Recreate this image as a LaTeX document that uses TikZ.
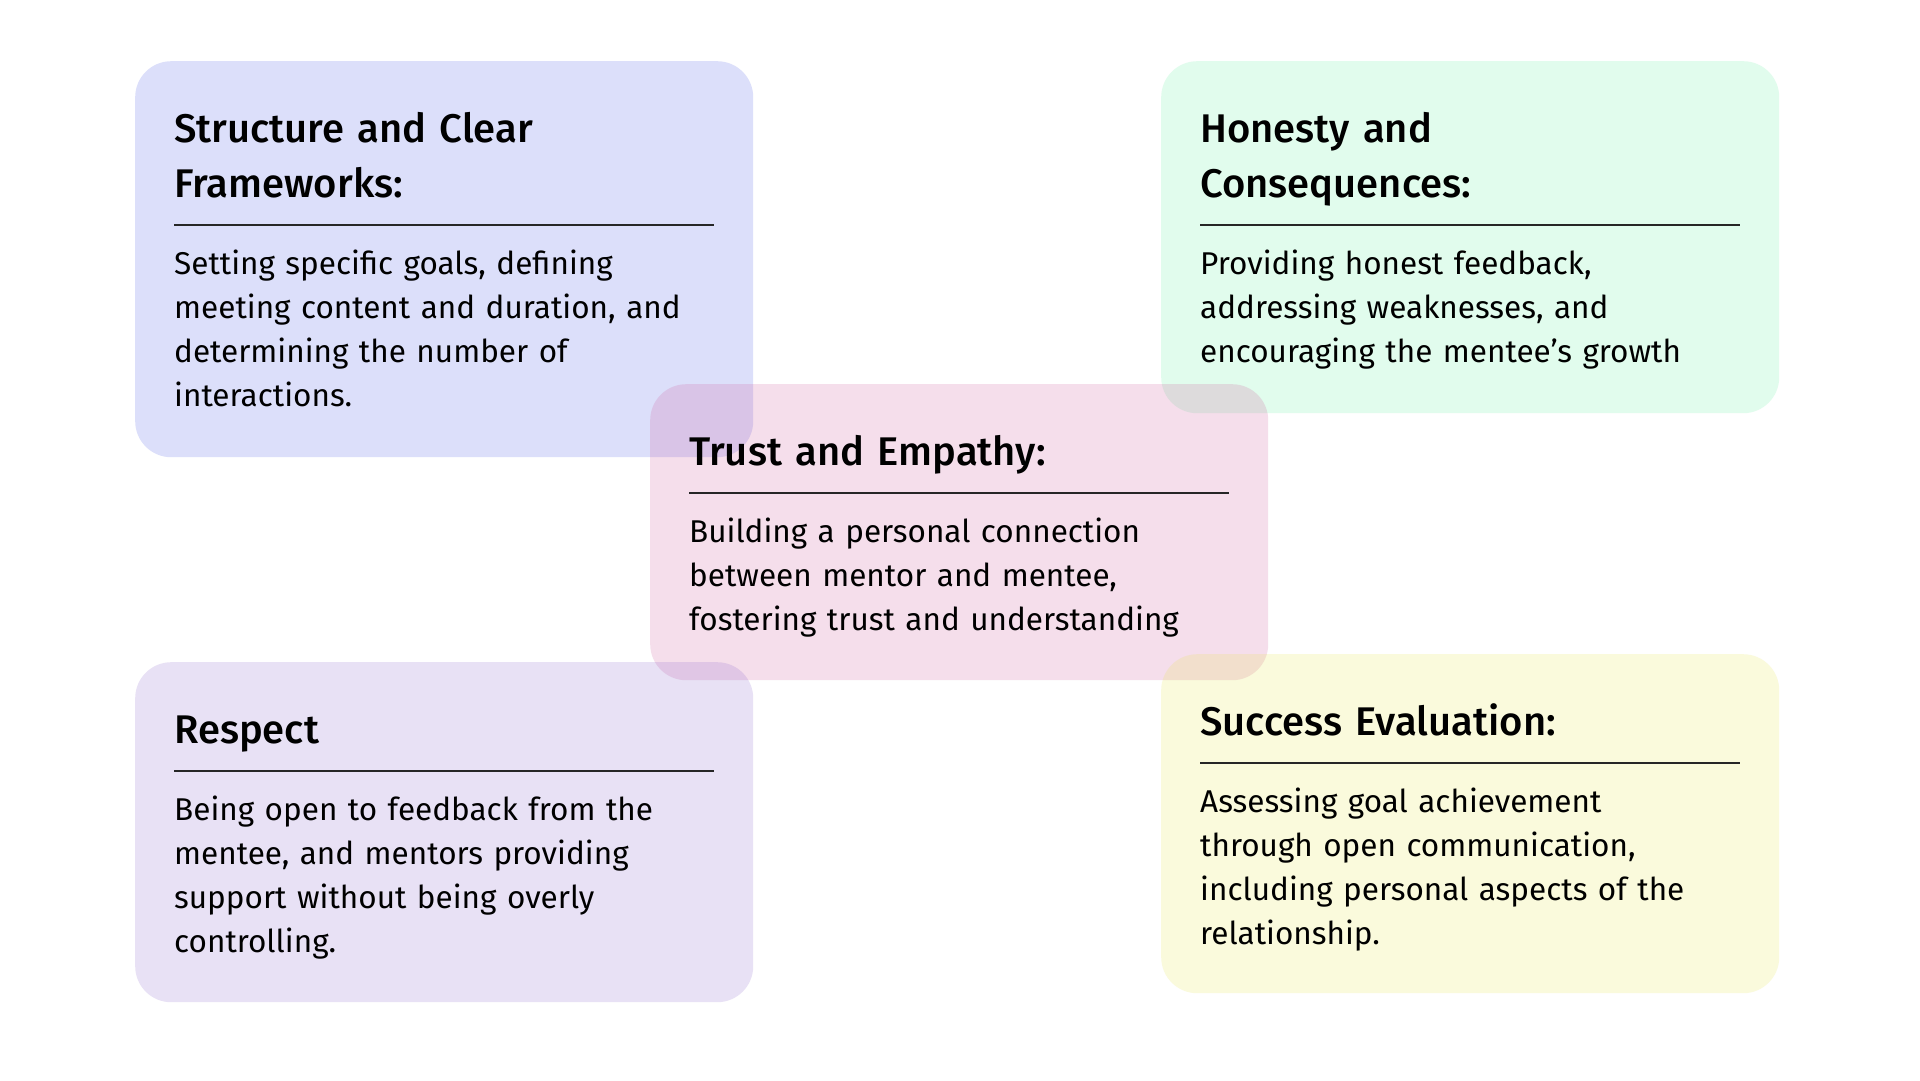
\documentclass[tikz,border=0pt]{standalone}
\usepackage{fontspec}
\setmainfont{Fira Sans}[BoldFont={Fira Sans Medium}]
\usetikzlibrary{positioning,calc}

\definecolor{structc}{RGB}{80,95,230}
\definecolor{honestc}{RGB}{105,240,165}
\definecolor{trustc}{RGB}{205,90,155}
\definecolor{respc}{RGB}{140,105,205}
\definecolor{succc}{RGB}{230,230,80}

\tikzset{
  card/.style ={rounded corners=36pt,minimum width=618pt,anchor=north west,
                inner sep=0pt,fill opacity=0.2},
  ttl/.style  ={anchor=base west,text width=560pt,align=left,inner sep=0pt,
                font=\fontsize{40}{55}\selectfont\bfseries},
  txt/.style  ={anchor=base west,text width=560pt,align=left,inner sep=0pt,
                font=\fontsize{31.5}{44}\selectfont},
  rule/.style ={line width=1.3pt,black!85},
}

\begin{document}
\begin{tikzpicture}[x=1pt,y=-1pt]
  \fill[white] (0,0) rectangle (1920,1080);
  \useasboundingbox (0,0) rectangle (1920,1080);

  % top left
  \node[card,fill=structc,minimum height=396pt] (struct) at (135,61) {};
  \node[ttl] (structT) at ([shift={(39,81)}]struct.north west)
    {Structure and Clear\\Frameworks:};
  \draw[rule] ([shift={(39,164)}]struct.north west) -- ([shift={(579,164)}]struct.north west);
  \node[txt] (structB) at ([shift={(39,213)}]struct.north west)
    {Setting specific goals, defining\\meeting content and duration, and\\
     determining the number of\\interactions.};

  % top right
  \node[card,fill=honestc,minimum height=352pt] (honest) at (1161,61) {};
  \node[ttl] (honestT) at ([shift={(39,81)}]honest.north west)
    {Honesty and\\Consequences:};
  \draw[rule] ([shift={(39,164)}]honest.north west) -- ([shift={(579,164)}]honest.north west);
  \node[txt] (honestB) at ([shift={(39,213)}]honest.north west)
    {Providing honest feedback,\\addressing weaknesses, and\\
     encouraging the mentee’s growth};

  % centre
  \node[card,fill=trustc,minimum height=296pt] (trust) at (650,384) {};
  \node[ttl] (trustT) at ([shift={(39,81)}]trust.north west) {Trust and Empathy:};
  \draw[rule] ([shift={(39,109)}]trust.north west) -- ([shift={(579,109)}]trust.north west);
  \node[txt] (trustB) at ([shift={(39,158)}]trust.north west)
    {Building a personal connection\\between mentor and mentee,\\
     fostering trust and understanding};

  % bottom left
  \node[card,fill=respc,minimum height=340pt] (resp) at (135,662) {};
  \node[ttl] (respT) at ([shift={(39,81)}]resp.north west) {Respect};
  \draw[rule] ([shift={(39,109)}]resp.north west) -- ([shift={(579,109)}]resp.north west);
  \node[txt] (respB) at ([shift={(39,158)}]resp.north west)
    {Being open to feedback from the\\mentee, and mentors providing\\
     support without being overly\\controlling.};

  % bottom right
  \node[card,fill=succc,minimum height=339pt] (succ) at (1161,654) {};
  \node[ttl] (succT) at ([shift={(39,81)}]succ.north west) {Success Evaluation:};
  \draw[rule] ([shift={(39,109)}]succ.north west) -- ([shift={(579,109)}]succ.north west);
  \node[txt] (succB) at ([shift={(39,158)}]succ.north west)
    {Assessing goal achievement\\through open communication,\\
     including personal aspects of the\\relationship.};
\end{tikzpicture}
\end{document}
